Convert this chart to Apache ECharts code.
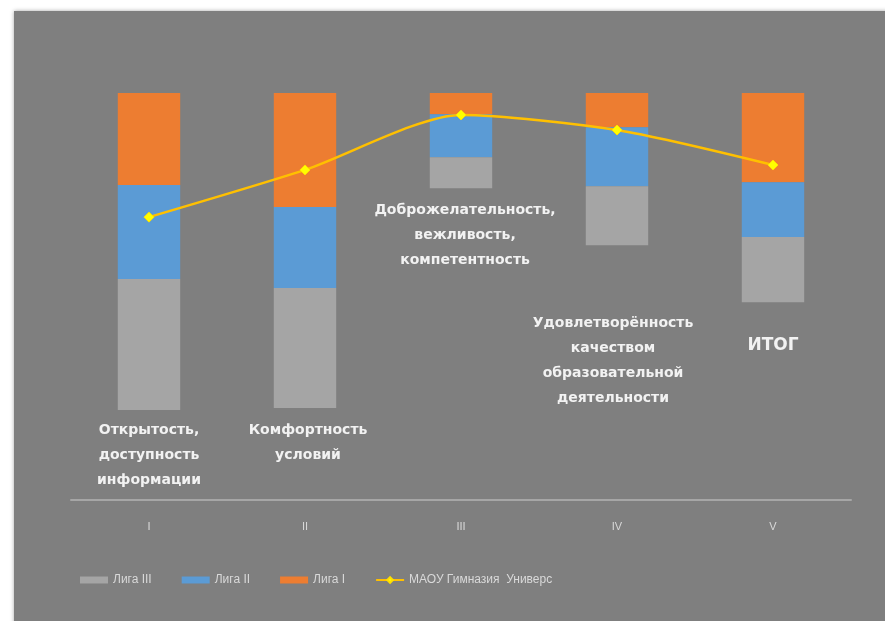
<!DOCTYPE html>
<html>
<head>
<meta charset="utf-8">
<script src="https://cdn.jsdelivr.net/npm/echarts@6/dist/echarts.min.js"></script>
<style>
  html, body { margin: 0; padding: 0; background: #ffffff; }
  #chart { width: 885px; height: 621px; }
</style>
</head>
<body>
<div id="chart"></div>
<script>
// данные по номинациям
var categories = ['I', 'II', 'III', 'IV', 'V'];
var ligaI = [22.6, 28.0, 5.2, 8.4, 21.9];
var ligaII = [23.1, 19.9, 10.6, 14.5, 13.5];
var ligaIII = [32.2, 29.5, 7.6, 14.5, 16.0];
var gimnaziya = [30.5, 18.9, 5.4, 9.1, 17.7];
var labelTexts = [
  'Открытость,\nдоступность\nинформации',
  'Комфортность\nусловий',
  'Доброжелательность,\nвежливость,\nкомпетентность',
  'Удовлетворённость\nкачеством\nобразовательной\nдеятельности',
  'ИТОГ'
];
// сдвиг подписей относительно столбца (раскладка)
var labelDist = [8, 10, 10, 66, 33];
var labelDx = [0, 3, 4, -4, 0];

var myChart = echarts.init(document.getElementById('chart'));

var gridData = ligaIII.map(function (v, i) {
  var lab = {
    show: true,
    position: 'bottom',
    distance: labelDist[i],
    offset: [labelDx[i], 0],
    formatter: labelTexts[i],
    color: '#f2f2f2',
    fontFamily: 'DejaVu Sans',
    fontWeight: 'bold',
    fontSize: 14,
    lineHeight: 25,
    align: 'center'
  };
  if (i === 4) {
    lab.fontSize = 17;
    lab.lineHeight = 20;
  }
  return { value: v, label: lab };
});

myChart.setOption({
  backgroundColor: '#ffffff',
  animation: false,
  graphic: [{
    type: 'rect',
    silent: true,
    z: -10,
    shape: { x: 14, y: 11, width: 880, height: 620 },
    style: { fill: '#7f7f7f', shadowBlur: 4, shadowColor: 'rgba(0,0,0,0.35)' }
  }],
  legend: {
    left: 75,
    top: 569,
    itemWidth: 28,
    itemHeight: 7,
    itemGap: 30,
    textStyle: { color: '#d9d9d9', fontSize: 12, fontFamily: 'Liberation Sans' },
    data: [
      { name: 'Лига III', icon: 'rect' },
      { name: 'Лига II', icon: 'rect' },
      { name: 'Лига I', icon: 'rect' },
      { name: 'МАОУ Гимназия  Универс' }
    ]
  },
  grid: { left: 71, right: 34, top: 93, bottom: 121 },
  xAxis: {
    type: 'category',
    data: categories,
    position: 'bottom',
    axisLine: { onZero: false, lineStyle: { color: '#a6a6a6', width: 2 } },
    axisTick: { show: false },
    axisLabel: { color: '#d9d9d9', fontSize: 11, margin: 21, fontFamily: 'Liberation Sans' }
  },
  yAxis: {
    type: 'value',
    inverse: true,
    min: 0,
    max: 100,
    show: false,
    splitLine: { show: false }
  },
  series: [
    {
      name: 'Лига I',
      type: 'bar',
      stack: 'liga',
      barWidth: '40%',
      itemStyle: { color: '#ed7d31' },
      data: ligaI
    },
    {
      name: 'Лига II',
      type: 'bar',
      stack: 'liga',
      itemStyle: { color: '#5b9bd5' },
      data: ligaII
    },
    {
      name: 'Лига III',
      type: 'bar',
      stack: 'liga',
      itemStyle: { color: '#a5a5a5' },
      data: gridData
    },
    {
      name: 'МАОУ Гимназия  Универс',
      type: 'line',
      smooth: 0.25,
      symbol: 'diamond',
      symbolSize: 10,
      lineStyle: { color: '#ffc000', width: 2.5 },
      itemStyle: { color: '#ffff00', borderColor: '#ffe000', borderWidth: 1 },
      z: 5,
      data: gimnaziya
    }
  ]
});
</script>
</body>
</html>
